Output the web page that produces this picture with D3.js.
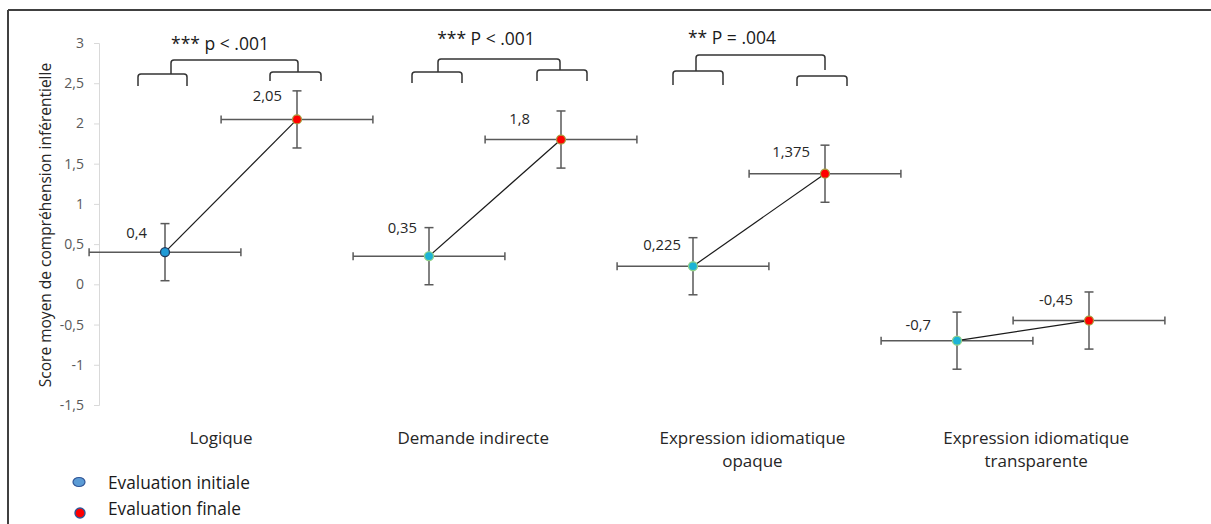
<!DOCTYPE html>
<html><head><meta charset="utf-8">
<script src="https://cdn.jsdelivr.net/npm/d3@7"></script>
<style>body{margin:0;background:#fff}svg{display:block}text{font-family:"Open Sans",sans-serif}</style>
</head><body><svg id="c" width="1211" height="524"></svg>
<script>
// ---- data ----
const categories = [["Logique"], ["Demande indirecte"], ["Expression idiomatique", "opaque"], ["Expression idiomatique", "transparente"]];
const xInitial = [1, 5, 9, 13];
const xFinal = [3, 7, 11, 15];
const initialScores = [0.4, 0.35, 0.225, -0.7];
const finalScores = [2.05, 1.8, 1.375, -0.45];
const initialLabels = ["0,4", "0,35", "0,225", "-0,7"];
const finalLabels = ["2,05", "1,8", "1,375", "-0,45"];
const yErr = 0.355;
const xErr = 1.15;
const yTicks = [3, 2.5, 2, 1.5, 1, 0.5, 0, -0.5, -1, -1.5];
const pLabels = ["*** p < .001", "*** P < .001", "** P = .004"];
const legendLabels = ["Evaluation initiale", "Evaluation finale"];

// ---- layout (pixels) ----
const catLabelX = [1.85, 5.67, 9.9, 14.2];
const initLabelOff = [[-18, -20], [-12, -29], [-12, -22], [-26, -17]];
const finLabelOff = [[-15, -24], [-31, -22], [-15, -23], [-16, -22]];
const brackets = [
  {ls: [-27, 22, 74, 86], rs: [-27, 24, 72, 81], big: [6, 1, 60, 74, 72], t: [-11, 43]},
  {ls: [-17, 33, 72, 83], rs: [-24, 26, 70, 81], big: [9, -1, 59, 72, 70], t: [-9, 38]},
  {ls: [-20, 30, 71, 85], rs: [-28, 22, 76, 86], big: [3, 0, 55, 71, 70], t: [-27, 37]}
];

const svg = d3.select("#c");
const x = d3.scaleLinear().domain([0, 16]).range([99, 1155]);
const y = d3.scaleLinear().domain([-1.5, 3]).range([405, 43]);

// frame
svg.append("line").attr("x1", 8).attr("x2", 1211).attr("y1", 10).attr("y2", 10).attr("stroke", "#404040").attr("stroke-width", 2);
svg.append("line").attr("x1", 8).attr("x2", 8).attr("y1", 10).attr("y2", 524).attr("stroke", "#404040").attr("stroke-width", 2);

// y axis
const ax = svg.append("g").attr("transform", "translate(99,0)")
  .call(d3.axisLeft(y).tickValues(yTicks).tickSize(5).tickPadding(10)
    .tickFormat(d => String(d).replace(".", ",")));
ax.select(".domain").attr("stroke", "#d9d9d9");
ax.selectAll(".tick line").attr("stroke", "#d9d9d9");
ax.selectAll(".tick text").attr("fill", "#595959").style("font-size", "14px").style("font-family", "Open Sans");

svg.append("text").attr("transform", "translate(51,225) rotate(-90)")
  .attr("text-anchor", "middle").attr("fill", "#262626").style("font-size", "15.5px")
  .text("Score moyen de compréhension inférentielle");

// category labels
categories.forEach((lines, i) => {
  const t = svg.append("text").attr("text-anchor", "middle").attr("fill", "#262626").style("font-size", "17px");
  lines.forEach((l, j) => t.append("tspan").attr("x", x(catLabelX[i])).attr("y", 444 + j * 23).text(l));
});

const gray = "#595959";
function errBars(xs, ys) {
  xs.forEach((xv, i) => {
    const yv = ys[i];
    const g = svg.append("g").attr("stroke", gray).attr("stroke-width", 1.5).attr("fill", "none");
    g.append("line").attr("x1", x(xv - xErr)).attr("x2", x(xv + xErr)).attr("y1", y(yv)).attr("y2", y(yv));
    g.append("line").attr("x1", x(xv - xErr)).attr("x2", x(xv - xErr)).attr("y1", y(yv) - 4).attr("y2", y(yv) + 4);
    g.append("line").attr("x1", x(xv + xErr)).attr("x2", x(xv + xErr)).attr("y1", y(yv) - 4).attr("y2", y(yv) + 4);
    g.append("line").attr("x1", x(xv)).attr("x2", x(xv)).attr("y1", y(yv - yErr)).attr("y2", y(yv + yErr));
    g.append("line").attr("x1", x(xv) - 4.5).attr("x2", x(xv) + 4.5).attr("y1", y(yv - yErr)).attr("y2", y(yv - yErr));
    g.append("line").attr("x1", x(xv) - 4.5).attr("x2", x(xv) + 4.5).attr("y1", y(yv + yErr)).attr("y2", y(yv + yErr));
  });
}
errBars(xInitial, initialScores);
errBars(xFinal, finalScores);

// connecting lines
categories.forEach((c, i) => {
  svg.append("line").attr("x1", x(xInitial[i])).attr("y1", y(initialScores[i]))
    .attr("x2", x(xFinal[i])).attr("y2", y(finalScores[i]))
    .attr("stroke", "#1a1a1a").attr("stroke-width", 1.2);
});

// points
svg.selectAll("circle.init").data(initialScores).join("circle").attr("class", "init")
  .attr("cx", (d, i) => x(xInitial[i])).attr("cy", d => y(d)).attr("r", 4.5)
  .attr("fill", (d, i) => i === 0 ? "#1e9ad6" : "#1cb3d6")
  .attr("stroke", (d, i) => i === 0 ? "#1f3a5f" : "#8fd18a").attr("stroke-width", 1.3);
svg.selectAll("circle.fin").data(finalScores).join("circle").attr("class", "fin")
  .attr("cx", (d, i) => x(xFinal[i])).attr("cy", d => y(d)).attr("r", 4.5)
  .attr("fill", "#ff0000").attr("stroke", "#a8a040").attr("stroke-width", 1.2);

// data labels
function dataLabels(xs, ys, labels, off) {
  labels.forEach((l, i) => {
    svg.append("text").attr("x", x(xs[i]) + off[i][0]).attr("y", y(ys[i]) + off[i][1])
      .attr("text-anchor", "end").attr("dominant-baseline", "central")
      .attr("fill", "#262626").style("font-size", "14.8px").text(l);
  });
}
dataLabels(xInitial, initialScores, initialLabels, initLabelOff);
dataLabels(xFinal, finalScores, finalLabels, finLabelOff);

// significance brackets
function bracketPath(x0, x1, top, b0, b1, r) {
  return `M${x0},${b0} L${x0},${top + r} Q${x0},${top} ${x0 + r},${top} L${x1 - r},${top} Q${x1},${top} ${x1},${top + r} L${x1},${b1}`;
}
brackets.forEach((b, i) => {
  const xi = x(xInitial[i]), xf = x(xFinal[i]);
  const g = svg.append("g").attr("stroke", "#333").attr("stroke-width", 1.5).attr("fill", "none");
  g.append("path").attr("d", bracketPath(xi + b.ls[0], xi + b.ls[1], b.ls[2], b.ls[3], b.ls[3], 3));
  g.append("path").attr("d", bracketPath(xf + b.rs[0], xf + b.rs[1], b.rs[2], b.rs[3], b.rs[3], 3));
  g.append("path").attr("d", bracketPath(xi + b.big[0], xf + b.big[1], b.big[2], b.big[3], b.big[4], 3));
  svg.append("text").attr("x", (xi + xf) / 2 + b.t[0]).attr("y", b.t[1])
    .attr("text-anchor", "middle").attr("dominant-baseline", "central")
    .attr("fill", "#1a1a1a").style("font-size", "17.5px").text(pLabels[i]);
});

// legend
svg.append("ellipse").attr("cx", 79).attr("cy", 482).attr("rx", 6).attr("ry", 4.5)
  .attr("fill", "#5b9bd5").attr("stroke", "#2f5597").attr("stroke-width", 1.2);
svg.append("circle").attr("cx", 80).attr("cy", 513).attr("r", 5)
  .attr("fill", "#ff0000").attr("stroke", "#2f5597").attr("stroke-width", 1.4);
legendLabels.forEach((l, i) => {
  svg.append("text").attr("x", 108).attr("y", 482 + i * 26).attr("dominant-baseline", "central")
    .attr("fill", "#1a1a1a").style("font-size", "17.3px").text(l);
});
</script></body></html>
